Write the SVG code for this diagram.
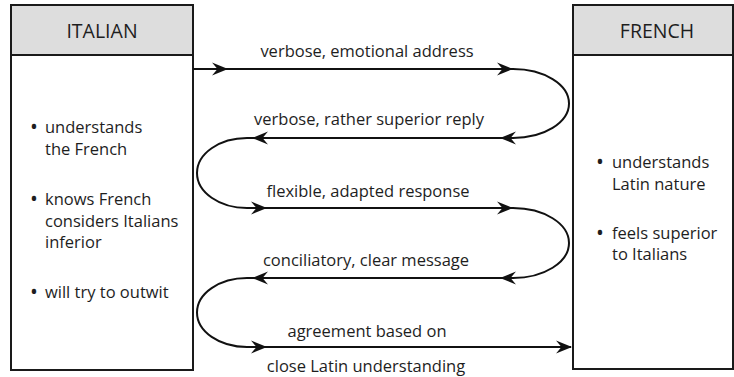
<svg xmlns="http://www.w3.org/2000/svg" width="734" height="377" viewBox="0 0 734 377">
<style>
.box{fill:#fff;stroke:#1a1a1a;stroke-width:2}
.hdr{fill:#dddddd;stroke:#1a1a1a;stroke-width:2}
.t{font-family:"Open Sans","Noto Sans","Liberation Sans",sans-serif;font-size:16.5px;fill:#1e1e1e}
.b{font-size:21px}
.h{font-family:"Open Sans","Noto Sans","Liberation Sans",sans-serif;font-size:19.5px;fill:#1e1e1e;text-anchor:middle}
.m{text-anchor:middle}
.ln{fill:none;stroke:#111;stroke-width:2}
.ah{fill:#111}
</style>
<defs>
<path id="ar" d="M0,0 L-16,-6.5 L-10.5,0 L-16,6.5 Z"/>
</defs>
<g id="italian">
<rect class="box" x="11" y="5" width="182" height="365"/>
<rect class="hdr" x="11" y="5" width="182" height="50"/>
<text class="h" x="102" y="38">ITALIAN</text>
<text class="t"><tspan class="b" x="30" y="134">•</tspan><tspan x="45" y="133">understands</tspan><tspan x="45" y="155">the French</tspan>
<tspan class="b" x="30" y="206">•</tspan><tspan x="45" y="205">knows French</tspan><tspan x="45" y="227">considers Italians</tspan><tspan x="45" y="248">inferior</tspan>
<tspan class="b" x="30" y="299">•</tspan><tspan x="45" y="298">will try to outwit</tspan></text>
</g>
<g id="french">
<rect class="box" x="573" y="5" width="160" height="364"/>
<rect class="hdr" x="573" y="5" width="160" height="50"/>
<text class="h" x="657" y="38">FRENCH</text>
<text class="t"><tspan class="b" x="596" y="169">•</tspan><tspan x="612" y="168">understands</tspan><tspan x="612" y="190">Latin nature</tspan>
<tspan class="b" x="596" y="240">•</tspan><tspan x="612" y="239">feels superior</tspan><tspan x="612" y="260">to Italians</tspan></text>
</g>
<g id="connectors">
<path class="ln" d="M193,69 H513 A56,34.5 0 0 1 513,138 H247 A50,35 0 0 0 247,208 H513 A56,35 0 0 1 513,278 H247 A50,34.5 0 0 0 247,347 H571"/>
<use href="#ar" class="ah" transform="translate(228,69)"/>
<use href="#ar" class="ah" transform="translate(513,69)"/>
<use href="#ar" class="ah" transform="translate(500,138) rotate(180)"/>
<use href="#ar" class="ah" transform="translate(252,138) rotate(180)"/>
<use href="#ar" class="ah" transform="translate(267,208)"/>
<use href="#ar" class="ah" transform="translate(513,208)"/>
<use href="#ar" class="ah" transform="translate(500,278) rotate(180)"/>
<use href="#ar" class="ah" transform="translate(252,278) rotate(180)"/>
<use href="#ar" class="ah" transform="translate(267,347)"/>
<use href="#ar" class="ah" transform="translate(572,347)"/>
<text class="t m" x="367" y="57">verbose, emotional address</text>
<text class="t m" x="369" y="125">verbose, rather superior reply</text>
<text class="t m" x="368" y="197">flexible, adapted response</text>
<text class="t m" x="366" y="266">conciliatory, clear message</text>
<text class="t m" x="367" y="337">agreement based on</text>
<text class="t m" x="366" y="372">close Latin understanding</text>
</g>
</svg>
